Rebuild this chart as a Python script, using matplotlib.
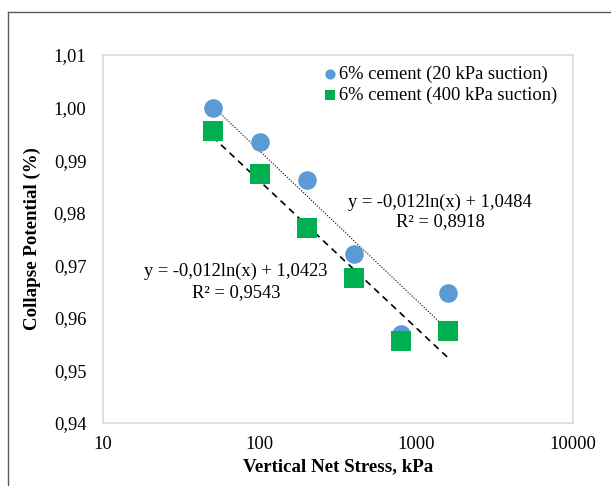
import numpy as np
import matplotlib
matplotlib.use("Agg")
import matplotlib.pyplot as plt
from matplotlib.ticker import FixedLocator, FuncFormatter
from matplotlib.lines import Line2D

plt.rcParams['font.family'] = ['Liberation Serif', 'DejaVu Serif']

stress = [50, 100, 200, 400, 800, 1600]
cp_20 = [0.9999, 0.9934, 0.9863, 0.9722, 0.9570, 0.9648]
cp_400 = [0.9955, 0.9873, 0.9770, 0.9675, 0.9556, 0.9575]
label_20 = "6% cement (20 kPa suction)"
label_400 = "6% cement (400 kPa suction)"
eq_20 = ["y = -0,012ln(x) + 1,0484", "R² = 0,8918"]
eq_400 = ["y = -0,012ln(x) + 1,0423", "R² = 0,9543"]
yticks = [0.94, 0.95, 0.96, 0.97, 0.98, 0.99, 1.00, 1.01]
xticks = [10, 100, 1000, 10000]

W, H = 611, 486
fig = plt.figure(figsize=(W/100, H/100), dpi=100)
ax = fig.add_axes([103/W, 1-423/H, (573-103)/W, (423-55)/H])

blue = '#5B9BD5'
green = '#00B050'
fs = 13.3

x = np.array(stress, dtype=float)
xs = np.logspace(np.log10(x.min()), np.log10(x.max()), 100)
for ys, ls, lw in [(cp_20, (0, (1, 1.5)), 0.8), (cp_400, (0, (4, 3)), 1.2)]:
    b, a = np.polyfit(np.log(x), np.array(ys), 1)
    ax.plot(xs, a + b*np.log(xs), color='black', linestyle=ls, linewidth=lw, zorder=1)

ax.scatter(stress, cp_20, s=180, marker='o', color=blue, label=label_20, zorder=3, linewidths=0)
ax.scatter(stress, cp_400, s=190, marker='s', color=green, label=label_400, zorder=4, linewidths=0)

ax.set_xscale('log')
ax.set_xlim(10, 10000)
ax.set_ylim(0.94, 1.01)
ax.xaxis.set_major_locator(FixedLocator(xticks))
ax.xaxis.set_minor_locator(FixedLocator([]))
ax.xaxis.set_major_formatter(FuncFormatter(lambda v, p: f"{v:.0f}"))
ax.yaxis.set_major_locator(FixedLocator(yticks))
ax.yaxis.set_major_formatter(FuncFormatter(lambda v, p: f"{v:.2f}".replace('.', ',')))
ax.tick_params(length=0, labelsize=fs)
ax.tick_params(axis='y', pad=12)
ax.tick_params(axis='x', pad=9)
for s in ax.spines.values():
    s.set_color('#d9d9d9')
    s.set_linewidth(1.2)

ax.set_xlabel("Vertical Net Stress, kPa", fontsize=13.6, fontweight='bold', labelpad=4)
ax.set_ylabel("Collapse Potential (%)", fontsize=13.6, fontweight='bold', labelpad=9)

leg = ax.legend(loc='upper right', bbox_to_anchor=(565/W, 1-58/H), bbox_transform=fig.transFigure,
                frameon=False, fontsize=fs, handletextpad=0.05, handlelength=0.9,
                labelspacing=0.2, borderaxespad=0, markerscale=0.55)

fig.text(440/W, 1-202/H, eq_20[0], ha='center', va='center', fontsize=fs)
fig.text(440/W, 1-222/H, eq_20[1], ha='center', va='center', fontsize=fs)
fig.text(236/W, 1-271/H, eq_400[0], ha='center', va='center', fontsize=fs)
fig.text(236/W, 1-293/H, eq_400[1], ha='center', va='center', fontsize=fs)

fig.add_artist(Line2D([8/W, 8/W], [0, 1-12/H], transform=fig.transFigure, color='#595959', linewidth=1))
fig.add_artist(Line2D([8/W, 1], [1-12/H, 1-12/H], transform=fig.transFigure, color='#595959', linewidth=1))

fig.savefig("out.png", dpi=100)
